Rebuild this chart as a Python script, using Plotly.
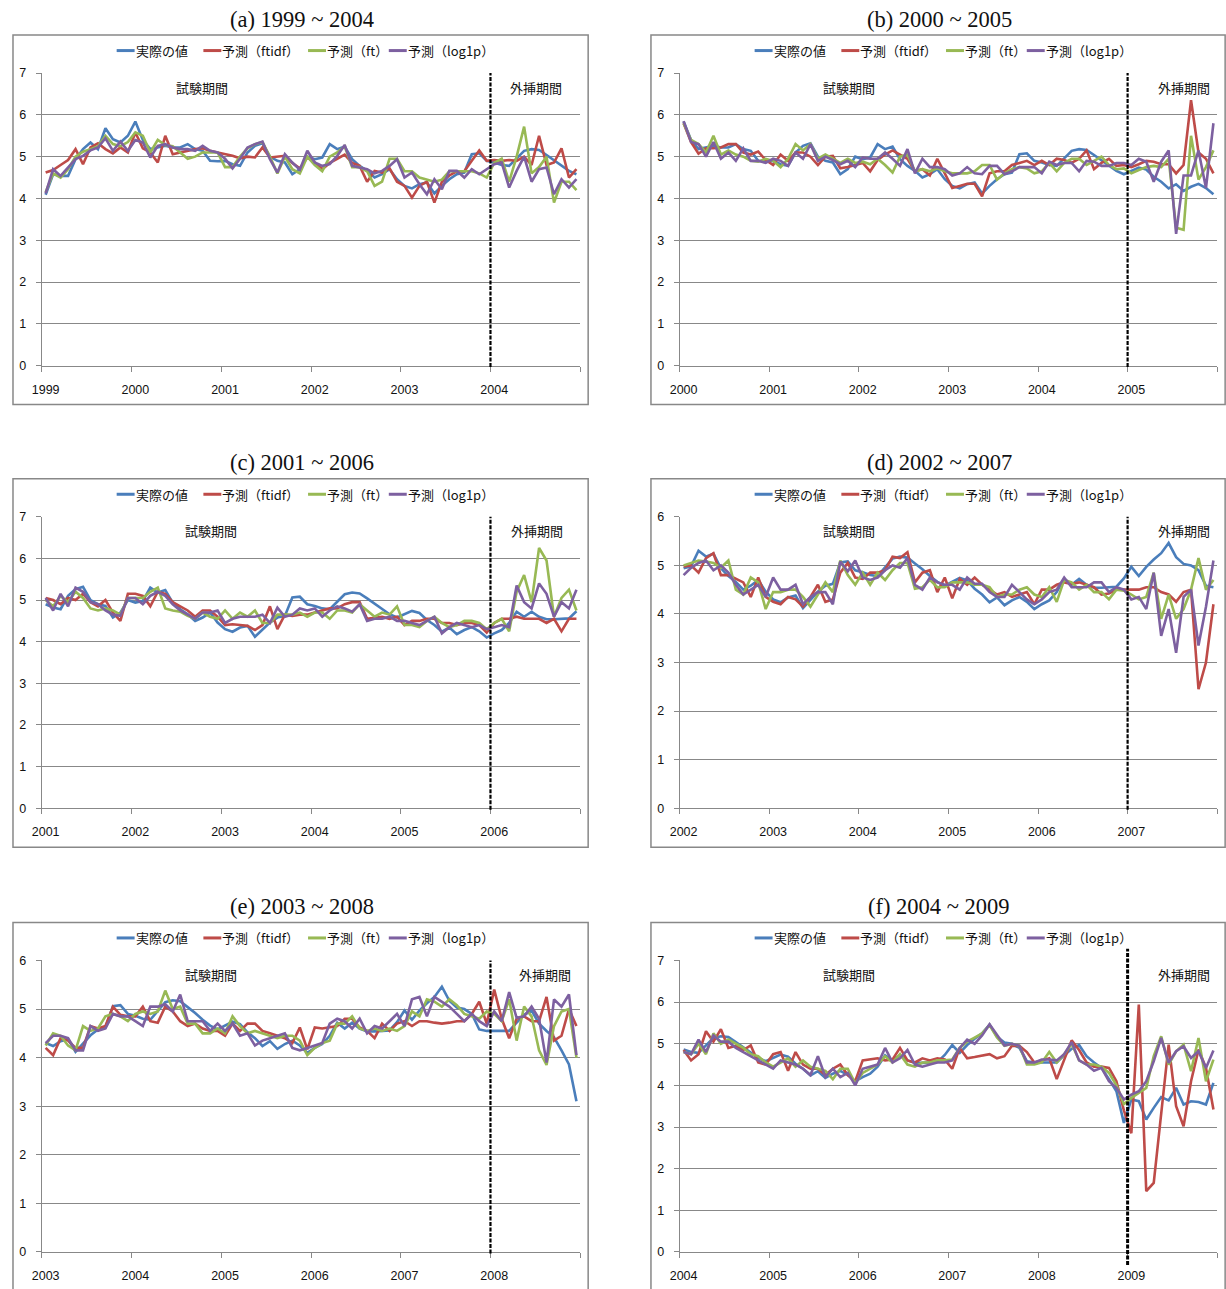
import plotly.graph_objects as go

W, H = 1226, 1289

# ---------------- data ----------------
# actual values, monthly, 1999-01 .. 2009-12
ACTUAL = [
    4.09, 4.58, 4.54, 4.54, 4.94, 5.18, 5.34, 5.18, 5.68, 5.42, 5.34, 5.50,   # 1999
    5.84, 5.40, 5.18, 5.22, 5.26, 5.22, 5.22, 5.30, 5.18, 5.14, 4.90, 4.89,   # 2000
    4.90, 4.82, 4.78, 5.10, 5.26, 5.32, 5.00, 4.90, 4.86, 4.58, 4.70, 5.00,   # 2001
    4.94, 4.98, 5.30, 5.18, 5.24, 4.94, 4.78, 4.66, 4.50, 4.58, 4.70, 4.46,   # 2002
    4.30, 4.24, 4.34, 4.38, 4.12, 4.30, 4.46, 4.58, 4.62, 5.06, 5.08, 4.90,   # 2003
    4.86, 4.80, 4.78, 4.96, 5.14, 5.18, 5.16, 5.04, 4.92, 4.78, 4.66, 4.58,   # 2004
    4.66, 4.74, 4.69, 4.52, 4.40, 4.24, 4.34, 4.18, 4.28, 4.35, 4.25, 4.10,   # 2005
    4.20, 4.28, 4.45, 4.72, 4.60, 4.72, 4.60, 4.54, 4.54, 4.55, 4.56, 4.73,   # 2006
    4.97, 4.78, 4.97, 5.12, 5.25, 5.46, 5.17, 5.03, 5.00, 4.90, 4.58, 4.55,   # 2007
    4.55, 4.55, 4.55, 4.72, 4.88, 4.97, 4.70, 4.55, 4.42, 4.15, 3.86, 3.10,   # 2008
    3.66, 3.62, 3.18, 3.46, 3.72, 3.64, 3.94, 3.54, 3.62, 3.60, 3.54, 4.06,   # 2009
]

# (a) 1999-2004
FTIDF_A = [
    4.62, 4.68, 4.80, 4.92, 5.18, 4.82, 5.22, 5.32, 5.18, 5.08, 5.22, 5.10,
    5.58, 5.20, 5.10, 4.86, 5.50, 5.06, 5.10, 5.14, 5.18, 5.20, 5.14, 5.10,
    5.06, 5.02, 4.96, 5.00, 4.98, 5.22, 4.98, 5.00, 5.02, 4.85, 4.72, 4.98,
    4.86, 4.70, 4.85, 4.95, 5.05, 4.85, 4.78, 4.40, 4.66, 4.62, 4.72, 4.40,
    4.30, 4.02, 4.30, 4.40, 3.90, 4.40, 4.55, 4.65, 4.65, 4.90, 5.15, 4.90,
    4.92, 4.90, 4.92, 4.90, 5.00, 4.80, 5.50, 4.80, 4.86, 5.20, 4.50, 4.70,
]
FT_A = [
    4.15, 4.60, 4.50, 4.70, 5.00, 5.12, 5.18, 5.25, 5.50, 5.30, 5.25, 5.35,
    5.58, 5.50, 5.10, 5.40, 5.28, 5.25, 5.10, 4.95, 5.00, 5.10, 5.10, 5.10,
    4.75, 4.75, 5.00, 5.20, 5.30, 5.35, 5.00, 4.60, 5.00, 4.70, 4.60, 5.00,
    4.80, 4.65, 5.00, 5.10, 5.25, 4.75, 4.75, 4.65, 4.30, 4.40, 4.95, 4.95,
    4.65, 4.65, 4.50, 4.45, 4.40, 4.45, 4.65, 4.65, 4.65, 4.65, 4.60, 4.50,
    4.85, 4.95, 4.40, 5.00, 5.72, 4.60, 4.75, 5.00, 3.90, 4.40, 4.40, 4.20,
]
LOG1P_A = [
    4.12, 4.70, 4.54, 4.74, 4.94, 5.02, 5.15, 5.22, 5.44, 5.14, 5.36, 5.14,
    5.40, 5.34, 4.98, 5.26, 5.30, 5.22, 5.18, 5.18, 5.14, 5.26, 5.14, 5.10,
    4.95, 4.72, 4.95, 5.22, 5.30, 5.36, 4.94, 4.62, 5.06, 4.86, 4.69, 5.14,
    4.86, 4.78, 4.82, 5.02, 5.28, 4.78, 4.74, 4.70, 4.60, 4.66, 4.78, 4.94,
    4.50, 4.62, 4.34, 4.10, 4.46, 4.22, 4.66, 4.66, 4.50, 4.70, 4.58, 4.70,
    4.82, 4.86, 4.26, 4.66, 5.00, 4.40, 4.70, 4.74, 4.10, 4.46, 4.26, 4.46,
]

# (b) 2000-2005
FTIDF_B = [
    5.80, 5.35, 5.07, 5.20, 5.20, 5.22, 5.30, 5.30, 5.10, 5.05, 5.12, 4.92,
    4.80, 5.05, 4.90, 5.10, 5.10, 5.00, 4.80, 5.00, 5.02, 4.72, 4.75, 4.80,
    4.85, 4.65, 4.92, 5.05, 5.15, 5.05, 4.95, 4.65, 4.70, 4.55, 4.95, 4.60,
    4.25, 4.30, 4.35, 4.35, 4.05, 4.60, 4.65, 4.65, 4.80, 4.85, 4.90, 4.80,
    4.90, 4.80, 4.95, 4.92, 4.85, 4.95, 5.15, 4.70, 4.85, 4.95, 4.78, 4.80,
    4.75, 4.82, 4.90, 4.88, 4.82, 4.82, 4.60, 4.80, 6.35, 5.10, 4.95, 4.60,
]
FT_B = [
    5.80, 5.40, 5.30, 5.10, 5.50, 5.05, 5.15, 5.05, 5.00, 4.90, 4.88, 4.95,
    4.90, 4.75, 4.95, 5.30, 5.15, 5.30, 4.95, 5.05, 4.95, 4.85, 4.95, 4.85,
    4.88, 4.82, 4.95, 4.80, 4.62, 5.00, 5.05, 4.65, 4.70, 4.65, 4.72, 4.65,
    4.60, 4.60, 4.60, 4.65, 4.80, 4.80, 4.45, 4.60, 4.70, 4.75, 4.72, 4.60,
    4.65, 4.85, 4.65, 4.85, 4.95, 4.95, 4.80, 4.90, 5.00, 4.80, 4.70, 4.72,
    4.60, 4.68, 4.75, 4.78, 4.75, 4.95, 3.30, 3.25, 5.50, 4.45, 4.75, 5.15,
]
LOG1P_B = [
    5.85, 5.35, 5.30, 5.00, 5.35, 4.95, 5.10, 4.90, 5.20, 4.90, 4.90, 4.85,
    4.95, 4.90, 4.78, 5.10, 4.95, 5.30, 4.90, 5.00, 4.92, 4.82, 4.90, 4.75,
    4.98, 4.95, 4.95, 5.10, 4.95, 4.78, 5.18, 4.60, 4.95, 4.75, 4.75, 4.70,
    4.55, 4.60, 4.75, 4.60, 4.58, 4.78, 4.78, 4.58, 4.65, 4.75, 4.75, 4.75,
    4.60, 4.88, 4.80, 4.85, 4.85, 4.65, 4.90, 4.88, 4.78, 4.78, 4.85, 4.85,
    4.80, 4.95, 4.88, 4.40, 4.88, 5.15, 3.15, 4.55, 4.55, 5.15, 4.25, 5.80,
]

# (c) 2001-2006
FTIDF_C = [
    5.05, 5.00, 4.90, 5.05, 5.00, 5.15, 4.95, 4.85, 5.00, 4.70, 4.50, 5.15,
    5.15, 5.10, 4.85, 5.20, 5.15, 4.95, 4.85, 4.75, 4.60, 4.75, 4.75, 4.60,
    4.40, 4.42, 4.40, 4.38, 4.28, 4.40, 4.85, 4.30, 4.65, 4.62, 4.65, 4.65,
    4.70, 4.75, 4.80, 4.80, 4.90, 4.95, 4.95, 4.55, 4.58, 4.60, 4.55, 4.60,
    4.40, 4.50, 4.50, 4.55, 4.55, 4.45, 4.45, 4.40, 4.45, 4.45, 4.40, 4.22,
    4.45, 4.55, 4.55, 4.60, 4.55, 4.55, 4.55, 4.45, 4.55, 4.25, 4.55, 4.55,
]
FT_C = [
    5.00, 4.85, 5.10, 4.95, 5.20, 5.05, 4.80, 4.75, 4.80, 4.75, 4.65, 5.05,
    5.05, 5.05, 5.20, 5.30, 4.80, 4.75, 4.72, 4.62, 4.55, 4.70, 4.60, 4.55,
    4.75, 4.55, 4.70, 4.60, 4.75, 4.45, 4.45, 4.65, 4.65, 4.65, 4.70, 4.60,
    4.70, 4.70, 4.55, 4.75, 4.75, 4.70, 4.90, 4.75, 4.60, 4.70, 4.65, 4.85,
    4.40, 4.40, 4.35, 4.50, 4.60, 4.45, 4.35, 4.40, 4.50, 4.50, 4.45, 4.30,
    4.45, 4.55, 4.25, 5.20, 5.60, 4.95, 6.25, 5.95, 4.60, 5.05, 5.25, 4.75,
]
LOG1P_C = [
    5.05, 4.75, 5.15, 4.85, 5.30, 5.20, 4.95, 4.90, 4.75, 4.65, 4.62, 5.05,
    5.05, 4.90, 5.10, 5.20, 5.10, 4.90, 4.75, 4.65, 4.55, 4.70, 4.70, 4.75,
    4.45, 4.55, 4.60, 4.60, 4.60, 4.65, 4.45, 4.82, 4.60, 4.65, 4.80, 4.75,
    4.80, 4.60, 4.75, 4.85, 4.80, 4.72, 4.90, 4.50, 4.55, 4.55, 4.60, 4.50,
    4.50, 4.45, 4.40, 4.50, 4.60, 4.20, 4.35, 4.45, 4.40, 4.35, 4.40, 4.30,
    4.35, 4.40, 4.35, 5.35, 4.95, 4.80, 5.40, 5.15, 4.60, 4.95, 4.80, 5.25,
]

# (d) 2002-2007
FTIDF_D = [
    4.98, 5.00, 4.85, 5.15, 5.25, 4.80, 4.80, 4.72, 4.65, 4.35, 4.75, 4.35,
    4.25, 4.20, 4.35, 4.30, 4.15, 4.35, 4.60, 4.25, 4.30, 4.85, 5.05, 4.75,
    4.72, 4.85, 4.85, 4.90, 5.18, 5.15, 5.27, 4.65, 4.85, 4.90, 4.45, 4.75,
    4.32, 4.72, 4.60, 4.75, 4.60, 4.50, 4.40, 4.45, 4.35, 4.40, 4.45, 4.20,
    4.50, 4.50, 4.60, 4.65, 4.62, 4.65, 4.60, 4.55, 4.40, 4.42, 4.50, 4.50,
    4.50, 4.50, 4.55, 4.55, 4.45, 4.40, 4.25, 4.45, 4.50, 2.45, 3.00, 4.20,
]
FT_D = [
    5.00, 5.05, 5.10, 5.08, 5.05, 4.95, 5.10, 4.50, 4.40, 4.75, 4.65, 4.10,
    4.45, 4.45, 4.50, 4.50, 4.35, 4.15, 4.40, 4.65, 4.45, 5.10, 4.80, 4.60,
    4.85, 4.60, 4.85, 4.70, 4.90, 5.05, 5.05, 4.52, 4.55, 4.70, 4.55, 4.55,
    4.65, 4.65, 4.65, 4.60, 4.60, 4.55, 4.35, 4.40, 4.40, 4.50, 4.55, 4.40,
    4.35, 4.55, 4.25, 4.70, 4.65, 4.50, 4.60, 4.45, 4.45, 4.30, 4.50, 4.48,
    4.40, 4.30, 4.35, 4.85, 3.90, 4.40, 3.90, 4.10, 4.50, 5.15, 4.50, 4.70,
]
LOG1P_D = [
    4.80, 4.95, 5.05, 5.10, 4.90, 5.00, 4.85, 4.60, 4.40, 4.50, 4.60, 4.35,
    4.75, 4.50, 4.50, 4.60, 4.20, 4.35, 4.45, 4.45, 4.20, 5.08, 4.88, 5.10,
    4.75, 4.70, 4.75, 4.90, 5.00, 4.95, 5.15, 4.60, 4.50, 4.75, 4.65, 4.60,
    4.60, 4.50, 4.75, 4.62, 4.62, 4.45, 4.35, 4.35, 4.60, 4.45, 4.30, 4.20,
    4.30, 4.45, 4.50, 4.75, 4.55, 4.55, 4.55, 4.65, 4.65, 4.45, 4.55, 4.50,
    4.30, 4.35, 4.10, 4.85, 3.55, 4.10, 3.20, 4.35, 4.50, 3.35, 4.15, 5.10,
]

# (e) 2003-2008
FTIDF_E = [
    4.20, 4.05, 4.40, 4.35, 4.20, 4.20, 4.65, 4.60, 4.65, 5.05, 4.88, 4.85,
    4.85, 5.05, 4.75, 4.72, 5.05, 4.95, 4.75, 4.65, 4.70, 4.60, 4.55, 4.55,
    4.45, 4.70, 4.55, 4.70, 4.70, 4.55, 4.50, 4.45, 4.40, 4.30, 4.62, 4.17,
    4.62, 4.60, 4.62, 4.65, 4.80, 4.80, 4.62, 4.55, 4.40, 4.70, 4.55, 4.70,
    4.75, 4.65, 4.75, 4.75, 4.72, 4.70, 4.72, 4.75, 4.75, 4.90, 5.15, 4.70,
    5.40, 4.80, 4.40, 4.80, 4.85, 4.75, 4.75, 5.25, 4.35, 4.45, 5.00, 4.65,
]
FT_E = [
    4.25, 4.50, 4.45, 4.25, 4.15, 4.65, 4.55, 4.60, 4.85, 4.90, 4.85, 4.75,
    4.90, 4.95, 4.90, 4.95, 5.38, 5.00, 5.05, 4.70, 4.70, 4.50, 4.50, 4.60,
    4.50, 4.85, 4.65, 4.50, 4.55, 4.50, 4.45, 4.40, 4.45, 4.45, 4.35, 4.05,
    4.20, 4.30, 4.35, 4.70, 4.70, 4.85, 4.60, 4.55, 4.60, 4.55, 4.60, 4.55,
    4.65, 4.95, 4.85, 5.20, 5.15, 5.05, 5.20, 5.08, 4.90, 4.85, 4.80, 4.95,
    4.90, 4.75, 5.20, 4.35, 5.05, 4.85, 4.15, 3.85, 4.65, 4.95, 5.00, 4.00,
]
LOG1P_E = [
    4.30, 4.45, 4.45, 4.40, 4.15, 4.15, 4.65, 4.55, 4.60, 4.90, 4.85, 4.85,
    4.75, 4.65, 5.05, 5.05, 5.10, 4.95, 5.30, 4.75, 4.75, 4.75, 4.55, 4.70,
    4.55, 4.70, 4.45, 4.50, 4.25, 4.35, 4.40, 4.45, 4.50, 4.20, 4.15, 4.20,
    4.25, 4.30, 4.70, 4.80, 4.75, 4.60, 4.80, 4.50, 4.65, 4.60, 4.75, 4.90,
    4.65, 5.20, 5.25, 4.85, 5.25, 5.15, 5.05, 4.90, 4.75, 4.90, 4.75, 4.65,
    4.95, 4.75, 5.35, 4.82, 4.85, 5.05, 4.80, 3.90, 5.20, 5.05, 5.30, 4.05,
]

# (f) 2004-2009
FTIDF_F = [
    4.85, 4.60, 4.75, 5.30, 5.05, 5.35, 4.90, 4.95, 4.85, 4.96, 4.55, 4.50,
    4.75, 4.80, 4.35, 4.80, 4.50, 4.40, 4.40, 4.25, 4.40, 4.50, 4.25, 4.10,
    4.60, 4.62, 4.65, 4.60, 4.62, 4.90, 4.60, 4.55, 4.65, 4.60, 4.65, 4.62,
    4.40, 4.90, 4.65, 4.68, 4.72, 4.75, 4.65, 4.70, 4.95, 4.95, 4.80, 4.55,
    4.60, 4.65, 4.15, 4.60, 5.08, 4.85, 4.55, 4.45, 4.45, 4.42, 4.10, 3.40,
    2.85, 5.94, 1.46, 1.66, 3.25, 4.98, 3.50, 3.02, 4.10, 4.86, 4.42, 3.42,
]
FT_F = [
    4.80, 4.75, 5.00, 4.75, 5.25, 5.00, 5.10, 5.00, 4.90, 4.75, 4.70, 4.55,
    4.45, 4.55, 4.65, 4.45, 4.60, 4.45, 4.40, 4.35, 4.15, 4.40, 4.40, 4.05,
    4.30, 4.40, 4.50, 4.70, 4.55, 4.75, 4.50, 4.45, 4.55, 4.55, 4.60, 4.60,
    4.62, 4.90, 5.05, 5.15, 5.25, 5.45, 5.15, 4.95, 5.00, 4.95, 4.50, 4.50,
    4.55, 4.80, 4.55, 4.75, 5.00, 4.60, 4.50, 4.50, 4.45, 4.30, 4.00, 3.55,
    3.70, 3.82, 3.94, 4.70, 5.18, 4.50, 4.82, 4.98, 4.34, 5.14, 4.10, 4.62,
]
LOG1P_F = [
    4.80, 4.75, 5.10, 4.80, 5.20, 5.05, 5.05, 4.90, 4.80, 4.70, 4.60, 4.50,
    4.40, 4.60, 4.55, 4.50, 4.40, 4.25, 4.70, 4.20, 4.40, 4.20, 4.30, 4.00,
    4.40, 4.45, 4.50, 4.90, 4.55, 4.65, 4.85, 4.50, 4.45, 4.50, 4.55, 4.55,
    4.60, 4.90, 5.10, 5.00, 5.20, 5.47, 5.20, 4.96, 5.00, 4.95, 4.55, 4.55,
    4.62, 4.62, 4.60, 4.75, 5.04, 4.60, 4.50, 4.35, 4.42, 4.10, 3.94, 3.66,
    3.78, 3.86, 4.10, 4.58, 5.14, 4.54, 4.82, 4.94, 4.66, 4.82, 4.42, 4.84,
]

FTIDF = [FTIDF_A, FTIDF_B, FTIDF_C, FTIDF_D, FTIDF_E, FTIDF_F]
FT = [FT_A, FT_B, FT_C, FT_D, FT_E, FT_F]
LOG1P = [LOG1P_A, LOG1P_B, LOG1P_C, LOG1P_D, LOG1P_E, LOG1P_F]

PANEL_TITLES = ["(a) 1999 ~ 2004", "(b) 2000 ~ 2005", "(c) 2001 ~ 2006",
                "(d) 2002 ~ 2007", "(e) 2003 ~ 2008", "(f) 2004 ~ 2009"]
YEAR_LABELS = [
    ["1999", "2000", "2001", "2002", "2003", "2004"],
    ["2000", "2001", "2002", "2003", "2004", "2005"],
    ["2001", "2002", "2003", "2004", "2005", "2006"],
    ["2002", "2003", "2004", "2005", "2006", "2007"],
    ["2003", "2004", "2005", "2006", "2007", "2008"],
    ["2004", "2005", "2006", "2007", "2008", "2009"],
]
ACTUAL_OFFSET = [0, 12, 24, 36, 48, 60]   # first month of each panel within ACTUAL
Y_MAX = [7, 7, 7, 6, 6, 7]
N_MONTHS = 72
SPLIT_MONTH = 60   # start of extrapolation period
SERIES_NAMES = ["実際の値", "予測（ftidf）", "予測（ft）", "予測（log1p）"]
COLORS = ["#4A7EBB", "#BE4B48", "#98B954", "#7D60A0"]
TEST_LABEL = "試験期間"
EXTRA_LABEL = "外挿期間"

# ---------------- layout geometry (target pixels) ----------------
COL_L = [38, 678]
COL_R = [578, 1217]
ROW_T = [74, 517, 960]
ROW_B = [366, 808, 1251]
LEGEND_X = [[113, 200, 305, 386], [753, 840, 945, 1026]]
TEST_X = [[199, 848], [208, 848], [208, 848]]
EXTRA_X = [[534, 1184], [535, 1184], [543, 1184]]
FRAME_X = [[9, 586], [649, 1225]]

GRID = "#888888"
CJK = "Noto Sans CJK JP"
SANS = "Liberation Sans"

# capture calibration: where a layout pixel ends up in the photographed page
CAL_X0, CAL_SX = 6.0, 0.995
CAL_Y0, CAL_SY = 8.0, 0.9876


def px(x):
    return ((x - CAL_X0) / CAL_SX) / W


def py(y):
    return 1 - ((y - CAL_Y0) / CAL_SY) / H


fig = go.Figure()
shapes = []
annotations = []

for k in range(6):
    r, c = divmod(k, 2)
    sfx = "" if k == 0 else str(k + 1)
    xs = [i + 0.5 for i in range(N_MONTHS)]
    series = [ACTUAL[ACTUAL_OFFSET[k]:ACTUAL_OFFSET[k] + N_MONTHS], FTIDF[k], FT[k], LOG1P[k]]
    for name, vals, col in zip(SERIES_NAMES, series, COLORS):
        fig.add_trace(go.Scatter(
            x=xs, y=vals, mode="lines", name=name, showlegend=False,
            line=dict(color=col, width=2.6),
            xaxis="x" + sfx, yaxis="y" + sfx, hoverinfo="skip"))

    fig.layout["xaxis" + sfx] = dict(
        domain=[px(COL_L[c]), px(COL_R[c])], anchor="y" + sfx,
        range=[0, N_MONTHS], showgrid=False, zeroline=False,
        showline=True, linecolor=GRID, linewidth=1.3,
        tickmode="array", tickvals=[0.5 + 12 * j for j in range(6)],
        ticktext=YEAR_LABELS[k], ticks="", ticklabelstandoff=12,
        tickfont=dict(family=SANS, size=12.5, color="#111"),
        minor=dict(tickmode="array", tickvals=[12 * j for j in range(7)],
                   ticks="outside", ticklen=5, tickwidth=1.3, tickcolor=GRID,
                   showgrid=False),
        fixedrange=True)
    fig.layout["yaxis" + sfx] = dict(
        domain=[py(ROW_B[r]), py(ROW_T[r])], anchor="x" + sfx,
        range=[0, Y_MAX[k]], tick0=0, dtick=1, showgrid=True,
        gridcolor=GRID, gridwidth=1.3, zeroline=False,
        showline=True, linecolor=GRID, linewidth=1.3,
        ticks="outside", ticklen=5, tickwidth=1.3, tickcolor=GRID,
        ticklabelstandoff=7,
        tickfont=dict(family=SANS, size=12.5, color="#111"),
        fixedrange=True)

    # boundary between test and extrapolation periods
    ext = 0.04 if k == 5 else 0.0
    shapes.append(dict(type="line", xref="x" + sfx, yref="y" + sfx + " domain",
                       x0=SPLIT_MONTH, x1=SPLIT_MONTH, y0=-ext - 0.005, y1=1 + ext,
                       line=dict(color="black", width=3 if k == 5 else 2.2, dash="4px,1.5px")))

    # chart frame
    top = ROW_T[r] - 38
    bot = ROW_B[r] + 39 if r < 2 else H + 40
    shapes.append(dict(type="rect", xref="paper", yref="paper",
                       x0=px(FRAME_X[c][0]), x1=px(FRAME_X[c][1]),
                       y0=py(bot), y1=py(top),
                       line=dict(color=GRID, width=1.5), fillcolor="rgba(0,0,0,0)"))

    # panel title
    annotations.append(dict(text=PANEL_TITLES[k], xref="paper", yref="paper",
                            x=px((FRAME_X[c][0] + FRAME_X[c][1]) / 2 + 1), y=py(ROW_T[r] - 54),
                            xanchor="center", yanchor="middle", showarrow=False,
                            font=dict(family="Liberation Serif", size=22.5, color="#111")))

    # legend
    ly = ROW_T[r] - 22.5
    for j, (name, col) in enumerate(zip(SERIES_NAMES, COLORS)):
        lx = LEGEND_X[c][j]
        shapes.append(dict(type="line", xref="paper", yref="paper",
                           x0=px(lx), x1=px(lx + 18), y0=py(ly), y1=py(ly),
                           line=dict(color=col, width=3)))
        annotations.append(dict(text=name, xref="paper", yref="paper",
                                x=px(lx + 17), y=py(ly), xanchor="left", yanchor="middle",
                                showarrow=False,
                                font=dict(family=CJK, size=13, color="#111")))

    # period labels
    for txt, tx in ((TEST_LABEL, TEST_X[r][c]), (EXTRA_LABEL, EXTRA_X[r][c])):
        annotations.append(dict(text=txt, xref="paper", yref="paper",
                                x=px(tx), y=py(ROW_T[r] + 14), xanchor="center",
                                yanchor="middle", showarrow=False,
                                font=dict(family=CJK, size=13, color="#111")))

fig.update_layout(
    width=W, height=H, margin=dict(l=0, r=0, t=0, b=0),
    paper_bgcolor="white", plot_bgcolor="white",
    shapes=shapes, annotations=annotations, showlegend=False)

fig.write_html(
    "out.html", config=dict(displayModeBar=False),
    post_script="document.body.style.margin='0';document.body.style.padding='0';"
                "document.documentElement.style.overflow='hidden';"
                "var d=document.getElementsByClassName('plotly-graph-div')[0];"
                "d.style.position='absolute';d.style.left='0px';d.style.top='0px';")
